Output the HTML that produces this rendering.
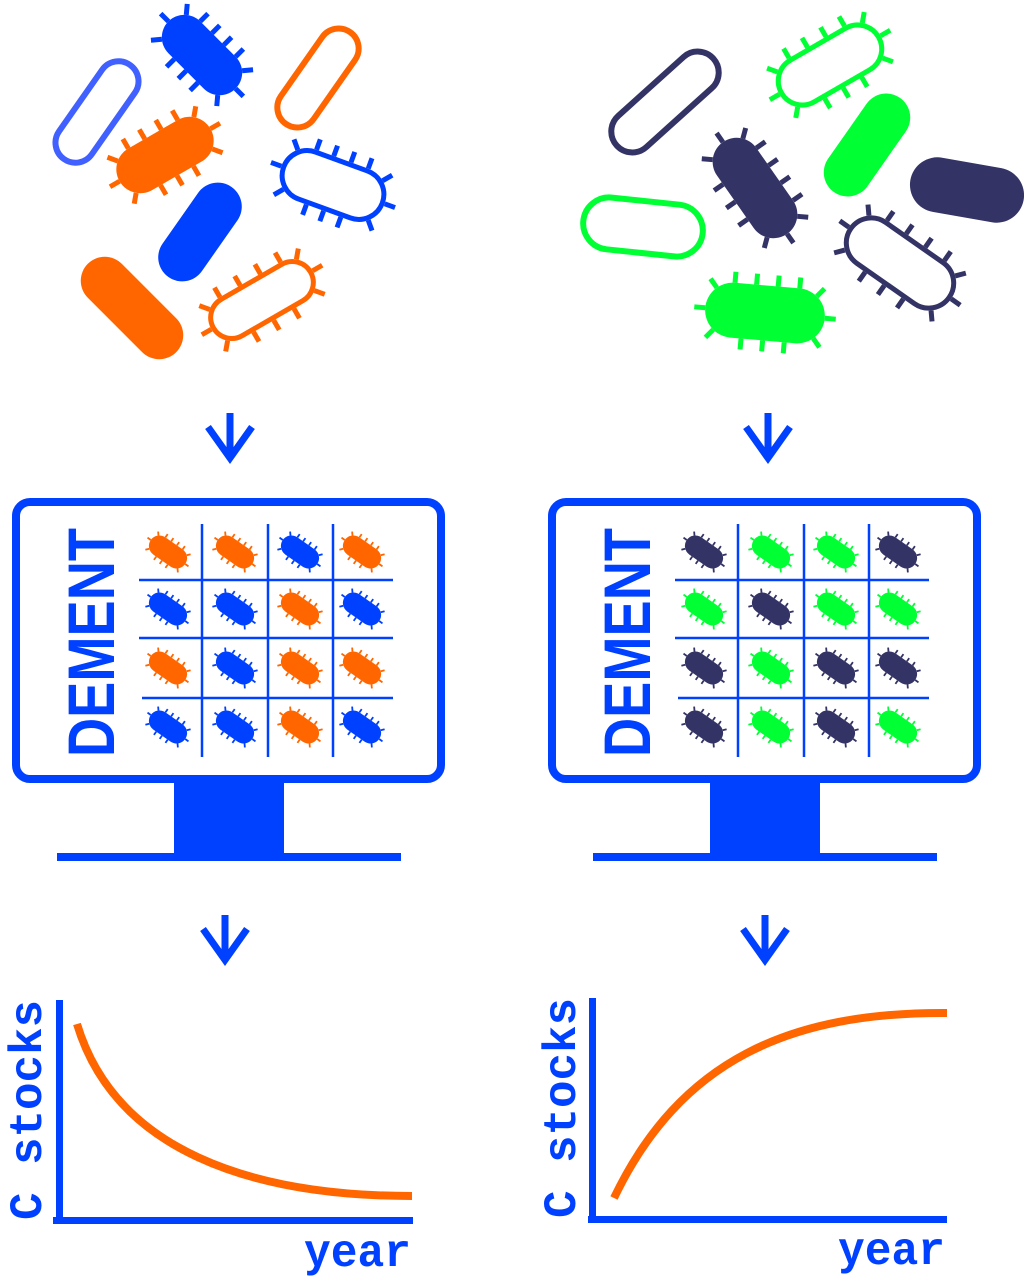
<!DOCTYPE html>
<html><head><meta charset="utf-8"><style>
html,body{margin:0;padding:0;background:#fff;}
svg{display:block;}
</style></head><body>
<svg id="s" width="1024" height="1287" viewBox="0 0 1024 1287" xmlns="http://www.w3.org/2000/svg">
<rect width="1024" height="1287" fill="#fff"/>
<g id="bac"></g>
<g fill="none" stroke="#0040ff" stroke-width="7">
<path d="M230,413 V458 M208,427 L230,458 L252,427"/>
<path d="M768,413 V458 M746,427 L768,458 L790,427"/>
<path d="M225,915 V960 M203,929 L225,960 L247,929"/>
<path d="M765,915 V960 M743,929 L765,960 L787,929"/>
</g>
<g fill="none" stroke="#0040ff">
<rect x="16" y="502" width="425" height="277" rx="14" stroke-width="8"/>
<rect x="552" y="502" width="425" height="277" rx="14" stroke-width="8"/>
<g stroke-width="2.5">
<path d="M202,524 V757 M268,524 V757 M333,524 V757 M139,580 H393 M139,638 H393 M142,698 H393"/>
<path d="M738,524 V757 M804,524 V757 M869,524 V757 M675,580 H929 M675,638 H929 M678,698 H929"/>
</g>
</g>
<g fill="#0040ff">
<rect x="174" y="781" width="110" height="76"/>
<rect x="57" y="853" width="344" height="8"/>
<rect x="710" y="781" width="110" height="76"/>
<rect x="593" y="853" width="344" height="8"/>
</g>
<g font-family="Liberation Sans, sans-serif" fill="#0040ff" font-size="66" font-weight="bold">
<text transform="translate(114,757) rotate(-90)" textLength="229" lengthAdjust="spacingAndGlyphs">DEMENT</text>
<text transform="translate(650,757) rotate(-90)" textLength="229" lengthAdjust="spacingAndGlyphs">DEMENT</text>
</g>
<g id="grid"></g>
<g fill="#0040ff">
<rect x="56" y="1000" width="7" height="224"/>
<rect x="53" y="1217" width="360" height="7"/>
<rect x="589" y="998" width="7" height="224"/>
<rect x="588" y="1216" width="359" height="7"/>
</g>
<g fill="none" stroke="#ff6600" stroke-width="8">
<path d="M77,1024 C115,1150 250,1196 412,1196"/>
<path d="M614,1198 C680,1060 790,1012 947,1013"/>
</g>
<g font-family="Liberation Mono, monospace" fill="#0040ff" font-size="46" font-weight="bold">
<text transform="translate(41,1220) rotate(-90)" textLength="220" lengthAdjust="spacingAndGlyphs">C stocks</text>
<text transform="translate(575,1218) rotate(-90)" textLength="220" lengthAdjust="spacingAndGlyphs">C stocks</text>
<text x="304" y="1266" textLength="107" lengthAdjust="spacingAndGlyphs">year</text>
<text x="838" y="1264" textLength="107" lengthAdjust="spacingAndGlyphs">year</text>
</g>
</svg>
<script>
var NS="http://www.w3.org/2000/svg";
function el(p,t,a){var e=document.createElementNS(NS,t);for(var k in a)e.setAttribute(k,a[k]);p.appendChild(e);return e;}
function bac(par,cx,cy,L,W,ang,col,filled,spiky,sw,sl,gap){
  var g=el(par,"g",{transform:"translate("+cx+","+cy+") rotate("+ang+")"});
  el(g,"rect",{x:-L/2,y:-W/2,width:L,height:W,rx:W/2,fill:filled?col:"none",stroke:col,"stroke-width":filled?0:sw});
  if(!spiky)return;
  var r=W/2,d="",s=L/2-r;
  var off=filled?0:sw/2;
  var n=Math.max(1,Math.round(2*s/gap)),st=2*s/n;
  for(var i=0;i<=n;i++){
    var x=-s+i*st;
    d+="M"+x+","+(-r-off)+"v"+(-sl);
    if(i<n) d+="M"+(x+st/2)+","+(r+off)+"v"+sl;
  }
  for(var side=-1;side<=1;side+=2){
    for(var a=-50;a<=50;a+=50){
      var rad=a*Math.PI/180,ux=Math.cos(rad)*side,uy=Math.sin(rad);
      var x0=side*s+ux*(r+off),y0=uy*(r+off);
      d+="M"+x0+","+y0+"l"+(ux*sl)+","+(uy*sl);
    }
  }
  el(g,"path",{d:d,stroke:col,"stroke-width":sw,fill:"none"});
}
var B="#0040ff",O="#ff6600",LB="#4060ff",N="#333366",G="#00ff33";
var b=document.getElementById("bac");
bac(b,202,55,95,45,45,B,1,1,5,11,20);
bac(b,318,78,112,40,-55,O,0,0,6);
bac(b,97,112,115,40,-55,LB,0,0,6);
bac(b,165,155,105,48,-30,O,1,1,5,11,20);
bac(b,333,185,105,50,20,B,0,1,5,11,22);
bac(b,200,232,110,48,-55,B,1,0);
bac(b,132,308,125,48,45,O,1,0);
bac(b,262,300,112,42,-30,O,0,1,5,11,22);
bac(b,665,102,130,42,-42,N,0,0,6);
bac(b,830,65,112,48,-30,G,0,1,5,11,22);
bac(b,755,188,112,48,55,N,1,1,5,11,20);
bac(b,867,145,115,48,-55,G,1,0);
bac(b,967,190,115,55,10,N,1,0);
bac(b,643,227,120,52,6,G,0,0,6);
bac(b,900,263,120,50,35,N,0,1,5,11,22);
bac(b,765,313,120,55,5,G,1,1,5,11,22);
var gr=document.getElementById("grid");
var L1=["OOBO","BBOB","OBOO","BBOB"],R1=["NGGN","GNGG","NGNN","NGNG"];
var cmap={O:O,B:B,N:N,G:G};
var xs=[168,235,300,362],ys=[552,609,668,727];
for(var i=0;i<4;i++)for(var j=0;j<4;j++){
  bac(gr,xs[j],ys[i],42,21,35,cmap[L1[i][j]],1,1,1.8,4,7);
  bac(gr,xs[j]+536,ys[i],42,21,35,cmap[R1[i][j]],1,1,1.8,4,7);
}
</script>
</body></html>
